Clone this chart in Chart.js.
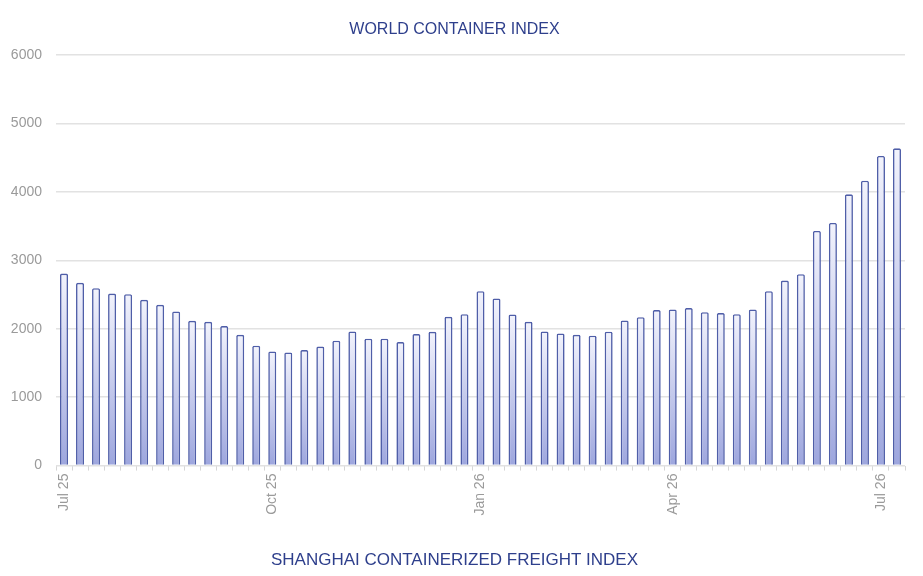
<!DOCTYPE html>
<html lang="en">
<head>
    <meta charset="UTF-8">
    <title>World Container Index</title>
    <style>
        html, body { margin: 0; padding: 0; background: #fff; }
        .chart-container { width: 923px; height: 576px; position: relative; }
    </style>
</head>
<body>
    <div class="chart-container">
        <canvas id="wciChart"></canvas>
    </div>

    <script src="https://cdn.jsdelivr.net/npm/chart.js"></script>
    <script>
        // Weekly categories, only quarter starts carry a label
        const weekLabels = [
            'Jul 25', '', '', '', '', '', '', '', '', '', '', '', '',
            'Oct 25', '', '', '', '', '', '', '', '', '', '', '', '',
            'Jan 26', '', '', '', '', '', '', '', '', '', '', '',
            'Apr 26', '', '', '', '', '', '', '', '', '', '', '', '',
            'Jul 26', ''
        ];

        // Index values (USD per 40ft)
        const indexValues = [
            2807, 2672, 2594, 2515, 2506, 2423, 2350, 2253, 2117, 2102, 2039, 1912, 1752,
            1669, 1654, 1689, 1740, 1825, 1961, 1854, 1854, 1805, 1922, 1956, 2175, 2214,
            2550, 2443, 2209, 2102, 1961, 1932, 1912, 1898, 1958, 2122, 2170, 2273,
            2282, 2302, 2243, 2229, 2214, 2282, 2550, 2705, 2798, 3431, 3547, 3966, 4165,
            4526, 4638
        ];

        const yTicks = [0, 1000, 2000, 3000, 4000, 5000, 6000];

        const navy = '#2e3f8c';
        const tickGrey = '#9a9a9a';
        const fontFamily = '"Liberation Sans", Arial, sans-serif';

        // Each bar fades from near-white at the top to light blue at the base
        function barGradient(context) {
            const chart = context.chart;
            const { chartArea, scales } = chart;
            if (!chartArea || context.raw === undefined) return '#c9cdee';
            const top = scales.y.getPixelForValue(context.raw);
            const bottom = scales.y.getPixelForValue(0);
            const g = chart.ctx.createLinearGradient(0, top, 0, bottom);
            g.addColorStop(0, '#f2f3fc');
            g.addColorStop(1, '#9da6de');
            return g;
        }

        const ctx = document.getElementById('wciChart').getContext('2d');
        const wciChart = new Chart(ctx, {
            type: 'bar',
            data: {
                labels: weekLabels,
                datasets: [{
                    label: 'World Container Index',
                    data: indexValues,
                    backgroundColor: barGradient,
                    borderColor: '#4f5ea8',
                    borderWidth: 1.6,
                    borderRadius: 1.5,
                    borderSkipped: 'bottom',
                    barPercentage: 0.5,
                    categoryPercentage: 1
                }]
            },
            options: {
                responsive: true,
                maintainAspectRatio: false,
                animation: false,
                layout: {
                    padding: { left: 4, right: 18, top: 10, bottom: 3 }
                },
                plugins: {
                    legend: { display: false },
                    tooltip: { enabled: false },
                    title: {
                        display: true,
                        text: 'WORLD CONTAINER INDEX',
                        color: navy,
                        font: { family: fontFamily, size: 16, weight: 'normal' },
                        padding: { top: 10, bottom: 16 }
                    },
                    subtitle: {
                        display: true,
                        position: 'bottom',
                        text: 'SHANGHAI CONTAINERIZED FREIGHT INDEX',
                        color: navy,
                        font: { family: fontFamily, size: 17, weight: 'normal' },
                        padding: { top: 32, bottom: 2 }
                    }
                },
                scales: {
                    x: {
                        grid: {
                            drawOnChartArea: false,
                            drawTicks: true,
                            tickLength: 5,
                            color: '#d6d6d6'
                        },
                        border: { display: false },
                        ticks: {
                            autoSkip: false,
                            maxRotation: 90,
                            minRotation: 90,
                            color: tickGrey,
                            padding: 3,
                            font: { family: fontFamily, size: 14 }
                        }
                    },
                    y: {
                        min: 0,
                        max: 6000,
                        afterBuildTicks: (axis) => {
                            axis.ticks = yTicks.map(v => ({ value: v }));
                        },
                        afterFit: (axis) => {
                            axis.width = 52;
                        },
                        grid: {
                            color: '#e2e2e2',
                            lineWidth: 1.5,
                            drawTicks: false
                        },
                        border: { display: false },
                        ticks: {
                            color: tickGrey,
                            padding: 14,
                            font: { family: fontFamily, size: 14 },
                            callback: (value) => String(value)
                        }
                    }
                }
            }
        });
    </script>
</body>
</html>
